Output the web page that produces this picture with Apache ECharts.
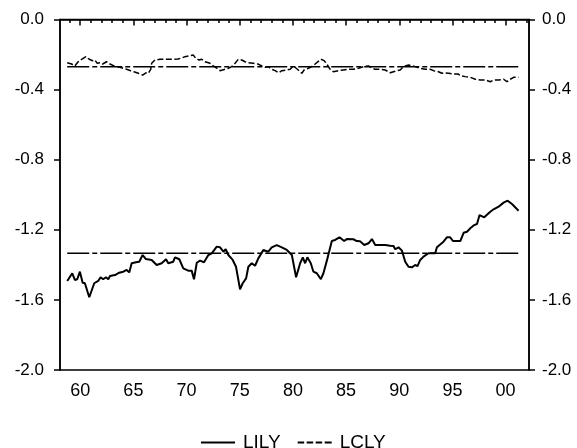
<!DOCTYPE html>
<html>
<head>
<meta charset="utf-8">
<script src="https://cdn.jsdelivr.net/npm/echarts@6/dist/echarts.min.js"></script>
<style>html,body{margin:0;padding:0;background:#fff}#c{width:577px;height:448px}</style>
</head>
<body>
<div id="c"></div>
<script>
const lilyYears = [1958.78,1959.25,1959.50,1959.72,1959.97,1960.23,1960.44,1960.85,1961.01,1961.32,1961.69,1961.92,1962.16,1962.42,1962.64,1962.80,1963.27,1963.67,1964.05,1964.37,1964.61,1964.84,1965.24,1965.55,1965.68,1965.87,1966.18,1966.72,1967.19,1967.66,1968.07,1968.28,1968.75,1968.91,1969.32,1969.69,1970.16,1970.48,1970.70,1970.96,1971.27,1971.64,1972.05,1972.37,1972.84,1973.15,1973.46,1973.68,1973.93,1974.34,1974.65,1975.03,1975.28,1975.60,1975.81,1976.13,1976.44,1976.75,1977.22,1977.69,1978.01,1978.48,1978.96,1979.43,1979.90,1980.30,1980.68,1980.93,1981.15,1981.36,1981.68,1981.93,1982.25,1982.63,1982.87,1983.25,1983.66,1983.97,1984.38,1984.82,1985.07,1985.69,1986.01,1986.33,1986.71,1987.11,1987.43,1987.74,1988.68,1988.84,1989.15,1989.46,1989.62,1989.93,1990.25,1990.56,1990.87,1991.19,1991.50,1991.72,1991.97,1992.28,1992.75,1993.38,1993.54,1994.16,1994.48,1994.79,1995.05,1995.74,1996.05,1996.37,1996.68,1997.05,1997.31,1997.55,1997.99,1998.56,1998.87,1999.34,1999.81,2000.19,2000.60,2001.22];
const lilyValues = [-1.492,-1.448,-1.486,-1.482,-1.439,-1.502,-1.505,-1.585,-1.582,-1.505,-1.492,-1.471,-1.482,-1.471,-1.482,-1.464,-1.458,-1.445,-1.439,-1.429,-1.443,-1.391,-1.385,-1.382,-1.391,-1.344,-1.367,-1.372,-1.401,-1.391,-1.368,-1.391,-1.382,-1.357,-1.368,-1.420,-1.433,-1.433,-1.482,-1.388,-1.376,-1.385,-1.344,-1.334,-1.296,-1.300,-1.325,-1.311,-1.344,-1.372,-1.411,-1.540,-1.505,-1.477,-1.411,-1.391,-1.405,-1.363,-1.315,-1.325,-1.300,-1.287,-1.300,-1.315,-1.344,-1.471,-1.391,-1.357,-1.391,-1.357,-1.391,-1.439,-1.448,-1.482,-1.448,-1.363,-1.264,-1.258,-1.243,-1.264,-1.253,-1.254,-1.264,-1.266,-1.287,-1.277,-1.253,-1.287,-1.287,-1.277,-1.291,-1.292,-1.311,-1.300,-1.319,-1.382,-1.411,-1.414,-1.401,-1.407,-1.372,-1.353,-1.334,-1.334,-1.300,-1.268,-1.243,-1.243,-1.264,-1.264,-1.217,-1.211,-1.191,-1.173,-1.167,-1.116,-1.129,-1.097,-1.083,-1.068,-1.045,-1.034,-1.053,-1.091];

const lclyYears = [1958.78,1959.19,1959.50,1959.81,1960.13,1960.54,1960.85,1961.17,1961.38,1961.60,1961.85,1962.11,1962.48,1962.80,1963.17,1963.74,1964.37,1964.74,1965.05,1965.46,1965.87,1966.18,1966.40,1966.63,1966.72,1967.03,1967.50,1968.13,1968.75,1969.20,1969.54,1969.85,1970.32,1970.64,1970.86,1971.17,1971.43,1971.74,1972.21,1972.52,1972.84,1973.15,1973.62,1973.93,1974.25,1974.56,1974.87,1975.19,1975.50,1975.81,1976.28,1976.70,1977.07,1977.38,1977.69,1978.01,1978.33,1978.64,1978.96,1979.43,1979.74,1980.05,1980.42,1980.84,1981.05,1981.46,1981.78,1982.09,1982.63,1982.94,1983.19,1983.50,1983.81,1984.28,1984.75,1985.22,1985.69,1986.16,1986.64,1987.11,1987.43,1987.74,1988.21,1988.68,1989.15,1989.46,1989.78,1990.09,1990.40,1990.87,1991.50,1991.97,1992.44,1992.91,1993.22,1993.69,1994.01,1994.26,1994.64,1995.11,1995.52,1995.83,1996.21,1996.68,1997.15,1997.62,1998.09,1998.56,1998.87,1999.34,1999.81,2000.13,2000.44,2000.75,2001.22];
const lclyValues = [-0.247,-0.254,-0.265,-0.241,-0.227,-0.212,-0.227,-0.235,-0.231,-0.250,-0.247,-0.254,-0.241,-0.254,-0.265,-0.273,-0.284,-0.292,-0.298,-0.307,-0.317,-0.304,-0.307,-0.284,-0.250,-0.231,-0.227,-0.227,-0.227,-0.225,-0.220,-0.212,-0.207,-0.203,-0.221,-0.231,-0.227,-0.241,-0.250,-0.265,-0.278,-0.292,-0.284,-0.278,-0.269,-0.250,-0.227,-0.231,-0.241,-0.247,-0.250,-0.254,-0.265,-0.273,-0.269,-0.284,-0.292,-0.304,-0.292,-0.288,-0.284,-0.265,-0.284,-0.307,-0.288,-0.278,-0.269,-0.254,-0.227,-0.235,-0.254,-0.284,-0.298,-0.292,-0.288,-0.284,-0.284,-0.278,-0.269,-0.265,-0.278,-0.284,-0.284,-0.288,-0.304,-0.298,-0.292,-0.288,-0.269,-0.260,-0.269,-0.278,-0.284,-0.284,-0.292,-0.298,-0.307,-0.304,-0.307,-0.311,-0.311,-0.322,-0.326,-0.330,-0.341,-0.345,-0.345,-0.355,-0.345,-0.345,-0.341,-0.355,-0.341,-0.330,-0.330];

const lilyMean = -1.334;
const lclyMean = -0.269;
const xMajorTicks = [1960, 1965, 1970, 1975, 1980, 1985, 1990, 1995, 2000];
const xMinorTicks = [1959,1960,1961,1962,1963,1964,1965,1966,1967,1968,1969,1970,1971,1972,1973,1974,1975,1976,1977,1978,1979,1980,1981,1982,1983,1984,1985,1986,1987,1988,1989,1990,1991,1992,1993,1994,1995,1996,1997,1998,1999,2000,2001,2002];

const pairs = (xs, ys) => xs.map((x, i) => [x, ys[i]]);
const FONT = '"Liberation Sans", Arial, sans-serif';
const chart = echarts.init(document.getElementById('c'), null, {renderer: 'canvas'});

const yAxisBase = (pos) => ({
  type: 'value', position: pos, min: -2, max: 0, interval: 0.4,
  axisLine: {show: true, lineStyle: {color: '#000', width: 1.5}},
  axisTick: {show: true, inside: false, length: 6, lineStyle: {color: '#000', width: 1.5}},
  axisLabel: {show: true, margin: pos === 'left' ? 16 : 13, color: '#000', fontSize: 17, fontFamily: FONT,
    formatter: v => (Math.abs(v) < 1e-9 ? '0.0' : v.toFixed(1))},
  splitLine: {show: false}
});

chart.setOption({
  animation: false,
  backgroundColor: '#fff',
  grid: {left: 60, right: 48, top: 19.5, bottom: 78, containLabel: false, outerBoundsMode: 'none',
    show: true, borderColor: '#000', borderWidth: 1.5, backgroundColor: 'transparent'},
  legend: {
    data: [
      {name: 'LILY', icon: 'path://M0,0h34v2h-34z'},
      {name: 'LCLY', icon: 'path://M0,0h6.5v2h-6.5zM9,0h6.5v2h-6.5zM18,0h6.5v2h-6.5zM27,0h7v2h-7z'}
    ],
    left: 196, top: 428, itemWidth: 34, itemHeight: 2, itemGap: 17,
    itemStyle: {color: '#000', borderWidth: 0},
    textStyle: {color: '#000', fontSize: 19, fontFamily: FONT, padding: [0, 0, 0, 3]}
  },
  xAxis: [{
    type: 'value', position: 'bottom', min: 1958.1, max: 2002.2,
    axisLine: {show: true, lineStyle: {color: '#000', width: 1.5}},
    axisTick: {show: true, inside: false, length: 6, customValues: xMajorTicks, lineStyle: {color: '#000', width: 1.5}},
    axisLabel: {show: true, margin: 12, color: '#000', fontSize: 18, fontFamily: FONT, customValues: xMajorTicks,
      formatter: v => String(Math.round(v) % 100).padStart(2, '0')},
    splitLine: {show: false}
  }, {
    type: 'value', position: 'bottom', min: 1958.1, max: 2002.2,
    axisLine: {show: false},
    axisTick: {show: true, inside: false, length: 3.5, customValues: xMinorTicks, lineStyle: {color: '#000', width: 1.5}},
    axisLabel: {show: false},
    splitLine: {show: false}
  }],
  yAxis: [yAxisBase('left'), yAxisBase('right')],
  series: [
    {name: 'LILY', type: 'line', xAxisIndex: 0, yAxisIndex: 0, data: pairs(lilyYears, lilyValues),
      symbol: 'none', lineStyle: {color: '#000', width: 2}, itemStyle: {color: '#000'}},
    {name: 'LCLY', type: 'line', xAxisIndex: 0, yAxisIndex: 0, data: pairs(lclyYears, lclyValues),
      symbol: 'none', lineStyle: {color: '#000', width: 1.5, type: [6, 2.5]}, itemStyle: {color: '#000'}},
    {name: 'LILY mean', type: 'line', xAxisIndex: 0, yAxisIndex: 0,
      data: [[lilyYears[0], lilyMean], [lilyYears[lilyYears.length - 1], lilyMean]],
      symbol: 'none', lineStyle: {color: '#000', width: 1.5, type: [22, 3, 5, 3]}},
    {name: 'LCLY mean', type: 'line', xAxisIndex: 0, yAxisIndex: 0,
      data: [[lclyYears[0], lclyMean], [lclyYears[lclyYears.length - 1], lclyMean]],
      symbol: 'none', lineStyle: {color: '#000', width: 1.5, type: [22, 3, 5, 3]}}
  ]
});
</script>
</body>
</html>
